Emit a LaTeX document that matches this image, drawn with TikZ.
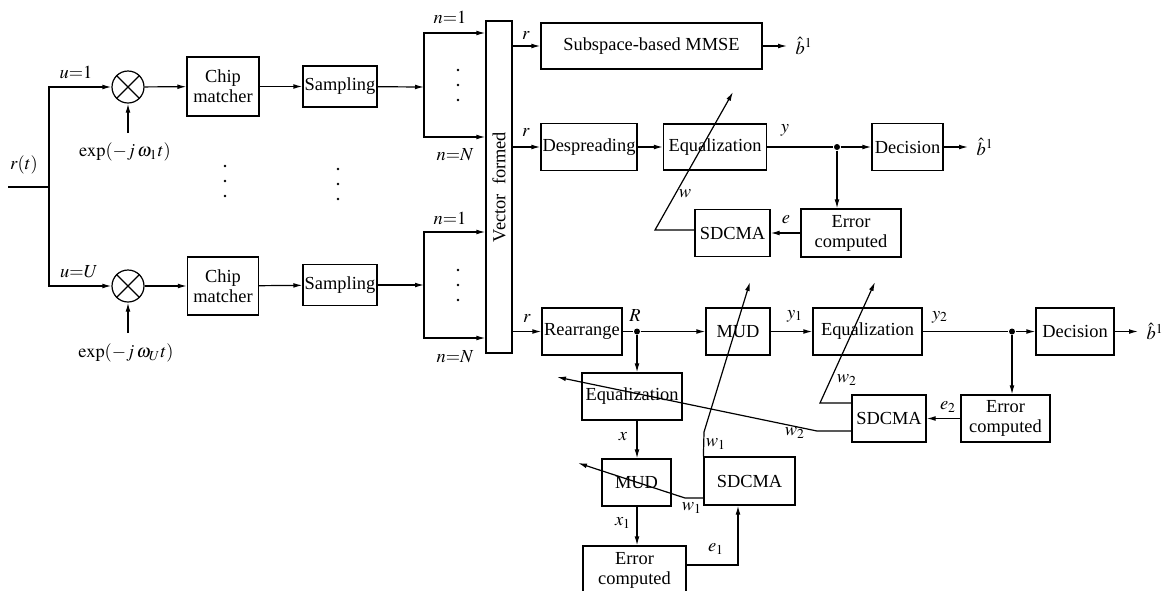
\documentclass[tikz,border=0pt]{standalone}
\usepackage{mathptmx}
\usepackage{fontspec}
\setmainfont{Liberation Serif}
\usetikzlibrary{arrows.meta,positioning}
\tikzset{
  sz/.style n args={2}{minimum width=#1*0.5pt, minimum height=#2*0.5pt}
}

\begin{document}
\begin{tikzpicture}[
  x=0.5pt, y=-0.5pt,
  font=\fontsize{9.2}{10}\selectfont,
  line width=0.6pt,
  blk/.style={draw, align=center, inner sep=0pt},
  mixer/.style={draw, circle, minimum size=16pt, inner sep=0pt},
  arr/.style={-{Latex[length=4.5pt, width=2.4pt]}},
  lbl/.style={inner sep=1pt},
  outlbl/.style={anchor=west, inner xsep=4pt, inner ysep=1pt},
  jn/.style={circle, fill, inner sep=0pt, minimum size=3pt}
]
\useasboundingbox (0,0) rectangle (1170,590);

% front end, two branches
\node[mixer] (mix1) at (128,87) {};
\node[mixer] (mix2) at (128,286) {};
\draw (mix1.north west) -- (mix1.south east) (mix1.north east) -- (mix1.south west);
\draw (mix2.north west) -- (mix2.south east) (mix2.north east) -- (mix2.south west);
\node[blk, sz={72}{59}] (cm1) at (223,86.5) {Chip\\matcher};
\node[blk, sz={74}{41}] (smp1) at (340,86.5) {Sampling};
\node[blk, sz={71}{58}] (cm2) at (223,286) {Chip\\matcher};
\node[blk, sz={74}{41}] (smp2) at (340,285) {Sampling};
\node[blk, sz={26}{332}] (vec) at (499,187) {\rotatebox{90}{Vector~~formed}};

\node[lbl] (rt) at (24,165) {$r(t)$};
\node[lbl] (u1) at (76,72) {$u{=}1$};
\node[lbl] (uU) at (79,272) {$u{=}U$};
\node[lbl] (exp1) at (125,152) {$\exp(-j\,\omega_1 t)$};
\node[lbl] (expU) at (126,353) {$\exp(-j\,\omega_U t)$};
\node[lbl] (n1a) at (450,17) {$n{=}1$};
\node[lbl] (nNa) at (455,155) {$n{=}N$};
\node[lbl] (n1b) at (450,218) {$n{=}1$};
\node[lbl] (nNb) at (455,357) {$n{=}N$};

\coordinate (in) at (8,187);
\coordinate (split) at (49,187);
\coordinate (p1) at (128,133);
\coordinate (pU) at (128,333);
\coordinate (f1) at (424,87);
\coordinate (f1t) at (424,33);
\coordinate (f1b) at (424,137);
\coordinate (f2) at (424,285);
\coordinate (f2t) at (424,232);
\coordinate (f2b) at (424,338);

\draw (in) -- (split);
\draw[arr] (split) |- (mix1);
\draw[arr] (split) |- (mix2);
\draw[arr] (p1) -- (mix1);
\draw[arr] (pU) -- (mix2);
\draw[arr] (mix1) -- (cm1);
\draw[arr] (cm1) -- (smp1);
\draw[arr] (mix2) -- (cm2);
\draw[arr] (cm2) -- (smp2);
\draw[arr] (smp1) -- (f1);
\draw[arr] (smp2) -- (f2);
\draw[arr] (f1) |- (f1t -| vec.west);
\draw[arr] (f1) |- (f1b -| vec.west);
\draw[arr] (f2) |- (f2t -| vec.west);
\draw[arr] (f2) |- (f2b -| vec.west);

\foreach \yy in {70,85,100} \fill (458,\yy) circle (0.7pt);
\foreach \yy in {270,285,300} \fill (458,\yy) circle (0.7pt);
\foreach \yy in {166,181,196} \fill (225,\yy) circle (0.7pt);
\foreach \yy in {169,184,199} \fill (338,\yy) circle (0.7pt);

% receiver 1: subspace MMSE
\node[blk, sz={221}{46}] (mmse) at (651.5,46) {Subspace-based MMSE};
\node[lbl] (ra) at (526,35) {$r$};
\node[outlbl] (b1) at (787,46) {$\hat{b}^1$};
\draw[arr] (vec.east |- mmse) -- (mmse);
\draw[arr] (mmse) -- (b1);

% receiver 2: despreading + equalization
\node[blk, sz={96}{47}] (desp) at (589,147) {Despreading};
\node[blk, sz={103}{46}] (eq1) at (715,147) {Equalization};
\node[jn] (d1) at (837,147) {};
\node[blk, sz={71}{47}] (dec1) at (907.5,147) {Decision};
\node[blk, sz={100}{48}] (err1) at (851,233) {Error\\computed};
\node[blk, sz={75}{47}] (sd1) at (732.5,233) {SDCMA};
\node[lbl] (rb) at (526,132) {$r$};
\node[lbl] (ylbl) at (785,130) {$y$};
\node[lbl] (wlbl) at (685,194) {$w$};
\node[lbl] (elbl) at (786,220) {$e$};
\node[outlbl] (b2) at (968,147) {$\hat{b}^1$};
\coordinate (w1a) at (655,230);
\coordinate (w1b) at (733,92);
\draw[arr] (vec.east |- desp) -- (desp);
\draw[arr] (desp) -- (eq1);
\draw (eq1) -- (d1);
\draw[arr] (d1) -- (dec1);
\draw[arr] (dec1) -- (b2);
\draw[arr] (d1) -- (d1 |- err1.north);
\draw[arr] (err1) -- (sd1);
\draw[arr] (sd1.west |- w1a) -- (w1a) -- (w1b);

% receiver 3: rearrange + two-stage MUD
\node[blk, sz={80}{47}] (rea) at (582,331.5) {Rearrange};
\node[jn] (d2) at (637,331.5) {};
\node[blk, sz={64}{47}] (mud1) at (738,331.5) {MUD};
\node[blk, sz={109}{47}] (eq2) at (867.5,331.5) {Equalization};
\node[jn] (d3) at (1012,331.5) {};
\node[blk, sz={78}{47}] (dec2) at (1075,331.5) {Decision};
\node[blk, sz={89}{47}] (err2) at (1005.5,418.5) {Error\\computed};
\node[blk, sz={74}{47}] (sd2) at (889,418.5) {SDCMA};
\node[blk, sz={100}{47}] (eq3) at (632,396.5) {Equalization};
\node[blk, sz={69}{47}] (mud3) at (636.5,482.5) {MUD};
\node[blk, sz={91}{48}] (sd3) at (749.5,481) {SDCMA};
\node[blk, sz={103}{48}] (err3) at (634.5,570) {Error\\computed};

\node[lbl] (rc) at (527,318) {$r$};
\node[lbl] (Rlbl) at (635,316) {$R$};
\node[lbl] (y1lbl) at (795,316) {$y_1$};
\node[lbl] (y2lbl) at (940,317) {$y_2$};
\node[outlbl] (b3) at (1138,331.5) {$\hat{b}^1$};
\node[lbl] (w2up) at (847,380) {$w_2$};
\node[lbl] (e2lbl) at (948,407) {$e_2$};
\node[lbl] (w2lo) at (795,433) {$w_2$};
\node[lbl] (xlbl) at (623,437) {$x$};
\node[lbl] (w1up) at (716,444) {$w_1$};
\node[lbl] (w1lo) at (692,508) {$w_1$};
\node[lbl] (x1lbl) at (623,523) {$x_1$};
\node[lbl] (e1lbl) at (716,549) {$e_1$};

\coordinate (w2a) at (820,403);
\coordinate (w2b) at (875,282);
\coordinate (w2c) at (817,431);
\coordinate (w2d) at (557,377);
\coordinate (w3a) at (704,432);
\coordinate (w3b) at (750,282);
\coordinate (w3c) at (685,498);
\coordinate (w3d) at (578,463);
\coordinate (e1c) at (738,565);

\draw[arr] (vec.east |- rea) -- (rea);
\draw (rea) -- (d2);
\draw[arr] (d2) -- (mud1);
\draw[arr] (mud1) -- (eq2);
\draw (eq2) -- (d3);
\draw[arr] (d3) -- (dec2);
\draw[arr] (dec2) -- (b3);
\draw[arr] (d3) -- (d3 |- err2.north);
\draw[arr] (err2) -- (sd2);
\draw[arr] (sd2.west |- w2a) -- (w2a) -- (w2b);
\draw[arr] (sd2.west |- w2c) -- (w2c) -- (w2d);
\draw[arr] (d2) -- (d2 |- eq3.north);
\draw[arr] (d2 |- eq3.south) -- (d2 |- mud3.north);
\draw[arr] (d2 |- mud3.south) -- (d2 |- err3.north);
\draw[arr] (err3.east |- e1c) -- (e1c) -- (e1c |- sd3.south);
\draw[arr] (sd3.north west) -- (w3a) -- (w3b);
\draw[arr] (sd3.west |- w3c) -- (w3c) -- (w3d);
\end{tikzpicture}
\end{document}
